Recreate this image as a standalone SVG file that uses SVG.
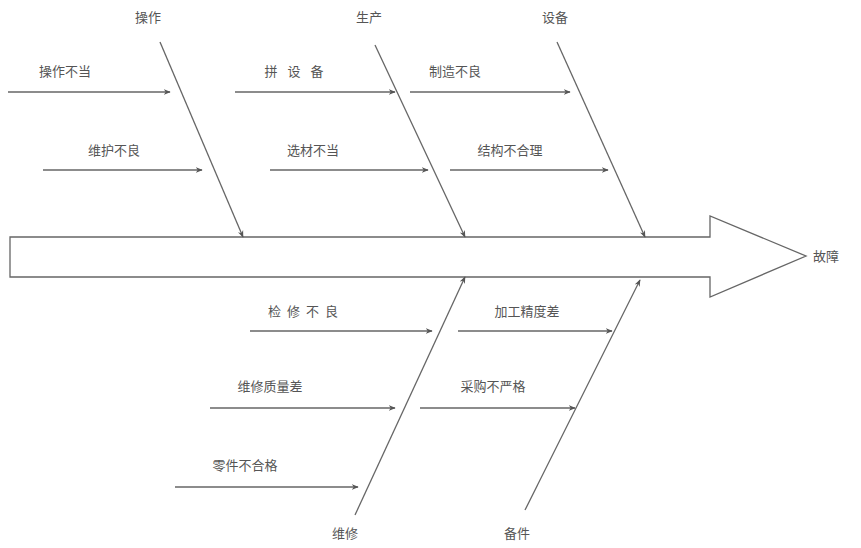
<svg xmlns="http://www.w3.org/2000/svg" width="861" height="548" viewBox="0 0 861 548">
<style>
.t{font-family:"Liberation Serif","Noto Sans CJK SC",serif;font-size:13px;fill:#555;text-anchor:middle}
.l{stroke:#666;stroke-width:1.3;fill:none}
</style>
<defs>
<marker id="a" viewBox="0 0 10 10" refX="9" refY="5" markerWidth="7" markerHeight="7" orient="auto" markerUnits="userSpaceOnUse">
<path d="M0,1 L10,5 L0,9 L3,5 Z" fill="#555"/>
</marker>
</defs>
<rect width="861" height="548" fill="#fff"/>
<g id="spine">
<path d="M10,237 L710,237 L710,216 L806,256 L710,297 L710,277 L10,277 Z" fill="#fff" stroke="#666" stroke-width="1.3"/>
</g>
<g id="connectors">
<line class="l" x1="160" y1="42" x2="243" y2="237" marker-end="url(#a)"/>
<line class="l" x1="375" y1="45" x2="465" y2="237" marker-end="url(#a)"/>
<line class="l" x1="557" y1="42" x2="645" y2="237" marker-end="url(#a)"/>
<line class="l" x1="355" y1="515" x2="465" y2="277" marker-end="url(#a)"/>
<line class="l" x1="525" y1="510" x2="640" y2="280" marker-end="url(#a)"/>
<line class="l" x1="8" y1="92" x2="170" y2="92" marker-end="url(#a)"/>
<line class="l" x1="235" y1="92" x2="395" y2="92" marker-end="url(#a)"/>
<line class="l" x1="410" y1="92" x2="570" y2="92" marker-end="url(#a)"/>
<line class="l" x1="43" y1="170" x2="202" y2="170" marker-end="url(#a)"/>
<line class="l" x1="270" y1="170" x2="428" y2="170" marker-end="url(#a)"/>
<line class="l" x1="450" y1="170" x2="608" y2="170" marker-end="url(#a)"/>
<line class="l" x1="250" y1="331" x2="432" y2="331" marker-end="url(#a)"/>
<line class="l" x1="458" y1="331" x2="612" y2="331" marker-end="url(#a)"/>
<line class="l" x1="210" y1="408" x2="395" y2="408" marker-end="url(#a)"/>
<line class="l" x1="420" y1="408" x2="575" y2="408" marker-end="url(#a)"/>
<line class="l" x1="175" y1="487" x2="358" y2="487" marker-end="url(#a)"/>
</g>
<g id="cat-caozuo"><text class="t" x="148" y="22">操作</text></g>
<g id="cat-shengchan"><text class="t" x="369" y="22">生产</text></g>
<g id="cat-shebei"><text class="t" x="555" y="22">设备</text></g>
<g id="cat-weixiu"><text class="t" x="345" y="538">维修</text></g>
<g id="cat-beijian"><text class="t" x="517" y="538">备件</text></g>
<g id="head"><text class="t" x="826" y="261">故障</text></g>
<g id="c1"><text class="t" x="65" y="76">操作不当</text></g>
<g id="c2"><text class="t" x="299" y="76" letter-spacing="10">拼设备</text></g>
<g id="c3"><text class="t" x="455" y="76">制造不良</text></g>
<g id="c4"><text class="t" x="114" y="155">维护不良</text></g>
<g id="c5"><text class="t" x="313" y="155">选材不当</text></g>
<g id="c6"><text class="t" x="510" y="155">结构不合理</text></g>
<g id="c7"><text class="t" x="306" y="316" letter-spacing="6">检修不良</text></g>
<g id="c8"><text class="t" x="527" y="316">加工精度差</text></g>
<g id="c9"><text class="t" x="270" y="391">维修质量差</text></g>
<g id="c10"><text class="t" x="493" y="391">采购不严格</text></g>
<g id="c11"><text class="t" x="245" y="470">零件不合格</text></g>
</svg>
